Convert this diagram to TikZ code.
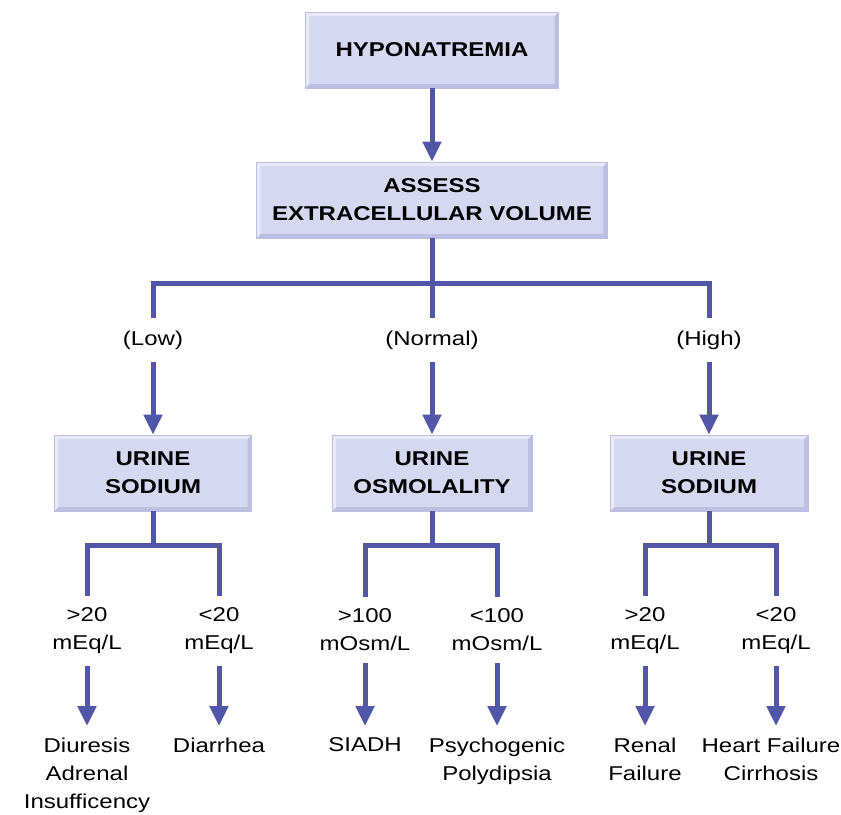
\documentclass[tikz,border=0pt]{standalone}
\usepackage{fontspec}
\setmainfont{Liberation Sans}[FakeStretch=1.2]
\usetikzlibrary{shapes,arrows.meta,positioning}
\definecolor{boxfill}{RGB}{214,215,240}
\definecolor{boxlight}{RGB}{232,233,250}
\definecolor{boxdark}{RGB}{188,190,226}
\definecolor{flowline}{RGB}{82,86,168}
\tikzset{
  block/.style  = {rectangle, fill=boxfill, draw=boxdark, line width=0.6pt, minimum height=57pt,
                   align=center, font=\bfseries\fontsize{15}{21}\selectfont, bevel},
  bevel/.style  = {path picture={
      \fill[boxdark] (path picture bounding box.south west) -- (path picture bounding box.south east)
        -- (path picture bounding box.north east) -- ++(-3pt,-3pt)
        |- ([shift={(3pt,3pt)}]path picture bounding box.south west) -- cycle;
      \fill[boxlight] (path picture bounding box.south west) -- (path picture bounding box.north west)
        -- (path picture bounding box.north east) -- ++(-3pt,-3pt)
        -| ([shift={(3pt,3pt)}]path picture bounding box.south west) -- cycle;}},
  cond/.style   = {align=center, inner xsep=2pt, inner ysep=9pt, font=\fontsize{15}{21}\selectfont},
  result/.style = {align=center, anchor=north, inner xsep=1pt, inner ysep=8.5pt, font=\fontsize{15}{21}\selectfont},
  link/.style   = {draw=flowline, line width=3.75pt}
}

\begin{document}
\begin{tikzpicture}[x=0.75pt, y=-0.75pt, >={Triangle[width=13.5pt,length=15pt]}]
\useasboundingbox (0,0) rectangle (841,814);

% Boxes
\draw node [block, name=hypo, minimum width=190pt] at (432,50) {HYPONATREMIA};
\draw node [block, name=assess, minimum width=263pt] at (432,200) {ASSESS\\EXTRACELLULAR VOLUME};
\draw node [block, name=naL, minimum width=148pt] at (153,473) {URINE\\SODIUM};
\draw node [block, name=osmo, minimum width=150pt] at (432,473) {URINE\\OSMOLALITY};
\draw node [block, name=naH, minimum width=148.5pt] at (709,473) {URINE\\SODIUM};

% Volume status
\coordinate (jv) at (432,283);
\draw node [cond, name=low] at (153,340) {(Low)};
\draw node [cond, name=normal] at (432,340) {(Normal)};
\draw node [cond, name=high] at (709,340) {(High)};

% Urine values
\coordinate (jlow) at (153,545);
\coordinate (jnorm) at (432,545);
\coordinate (jhigh) at (709,545);
\draw node [cond, name=gtL] at (87,631) {>20\\mEq/L};
\draw node [cond, name=ltL] at (219,631) {<20\\mEq/L};
\draw node [cond, name=gtO] at (365,630) {>100\\mOsm/L};
\draw node [cond, name=ltO] at (497,630) {<100\\mOsm/L};
\draw node [cond, name=gtH] at (645,631) {>20\\mEq/L};
\draw node [cond, name=ltH] at (776,631) {<20\\mEq/L};

% Causes
\draw node [result, name=diur] at (87,726) {Diuresis\\Adrenal\\Insufficency};
\draw node [result, name=diar] at (219,726) {Diarrhea};
\draw node [result, name=siadh] at (365,726) {SIADH};
\draw node [result, name=psych] at (497,726) {Psychogenic\\Polydipsia};
\draw node [result, name=renal] at (645,726) {Renal\\Failure};
\draw node [result, name=heart] at (771,726) {Heart Failure\\Cirrhosis};

% Connections
\draw[link,->] (hypo) -- (assess);
\draw[link] (assess) -- (jv);
\draw[link] (low) |- (jv) -| (high);
\draw[link] (jv) -- (normal);
\draw[link,->] (low) -- (naL);
\draw[link,->] (normal) -- (osmo);
\draw[link,->] (high) -- (naH);

\draw[link] (naL) -- (jlow);
\draw[link] (gtL) |- (jlow) -| (ltL);
\draw[link] (osmo) -- (jnorm);
\draw[link] (gtO) |- (jnorm) -| (ltO);
\draw[link] (naH) -- (jhigh);
\draw[link] (gtH) |- (jhigh) -| (ltH);

\draw[link,->] (gtL) -- (diur);
\draw[link,->] (ltL) -- (diar);
\draw[link,->] (gtO) -- (siadh);
\draw[link,->] (ltO) -- (psych);
\draw[link,->] (gtH) -- (renal);
\draw[link,->] (ltH) -- (ltH |- heart.north);

\end{tikzpicture}
\end{document}
